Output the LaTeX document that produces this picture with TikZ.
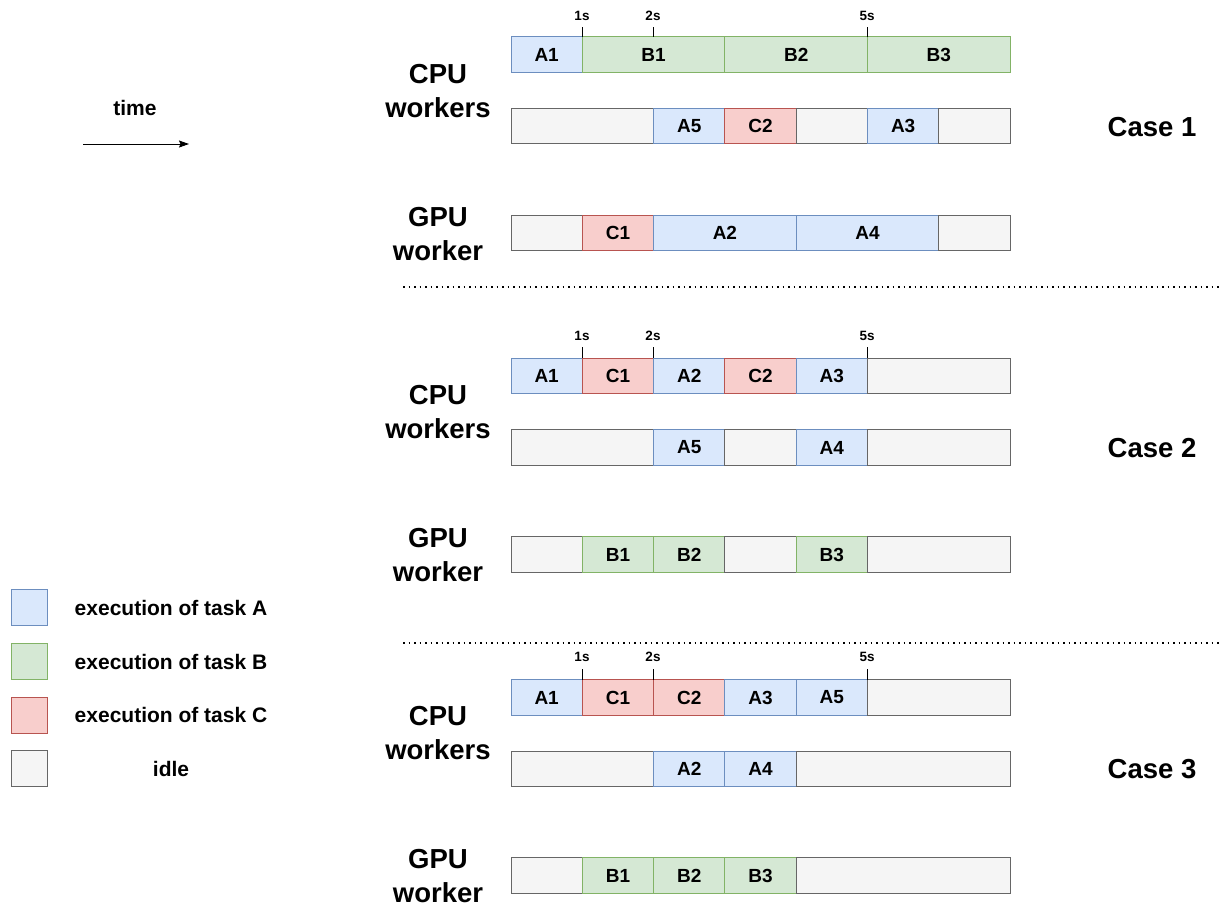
\documentclass[tikz,border=0pt]{standalone}
\usepackage{fontspec}
\setmainfont{Liberation Sans}
\usetikzlibrary{arrows.meta}
\definecolor{aF}{HTML}{DAE8FC}\definecolor{aD}{HTML}{6C8EBF}
\definecolor{bF}{HTML}{D5E8D4}\definecolor{bD}{HTML}{82B366}
\definecolor{cF}{HTML}{F8CECC}\definecolor{cD}{HTML}{B85450}
\definecolor{iF}{HTML}{F5F5F5}\definecolor{iD}{HTML}{666666}
\tikzset{
  blk/.style={draw, line width=0.9pt, inner sep=0pt, minimum height=35.5pt, font=\fontsize{19}{22}\selectfont\bfseries},
  ta/.style={blk, fill=aF, draw=aD},
  tb/.style={blk, fill=bF, draw=bD},
  tc/.style={blk, fill=cF, draw=cD},
  ti/.style={blk, fill=iF, draw=iD},
  rowlbl/.style={align=center, font=\fontsize{27.5}{34}\selectfont\bfseries},
  caselbl/.style={font=\fontsize{27.5}{32}\selectfont\bfseries},
  ticklbl/.style={font=\fontsize{13.5}{15}\selectfont\bfseries, inner sep=0pt},
  tickln/.style={line width=0.8pt},
  sep/.style={line width=1.2pt, dash pattern=on 1.5pt off 4pt},
  legsq/.style={draw, line width=0.9pt, minimum width=36pt, minimum height=36pt, inner sep=0pt},
  legtx/.style={font=\fontsize{21}{25}\selectfont\bfseries},
}
\newcommand{\seg}[6]{\node[#1, minimum width={(#3-#2)*71.3pt}] (#6) at ({511+(#2+#3)/2*71.3}, #4) {#5};}
\begin{document}
\begin{tikzpicture}[x=1pt,y=-1pt]
\useasboundingbox (0,0) rectangle (1221,906);
% time arrow
\node[legtx] (time) at (135,108) {time};
\coordinate (t0) at (83,144); \coordinate (t1) at (189,144);
\draw[line width=0.9pt, -{Stealth[length=10pt,width=7pt,inset=1.5pt]}] (t0) -- (t1);
% legend
\node[legsq, fill=aF, draw=aD] (la) at (29,607.5) {};
\node[legsq, fill=bF, draw=bD] (lb) at (29,661.5) {};
\node[legsq, fill=cF, draw=cD] (lc) at (29,715) {};
\node[legsq, fill=iF, draw=iD] (li) at (29,768.5) {};
\node[legtx] (lta) at (171,607.5) {execution of task A};
\node[legtx] (ltb) at (171,661.5) {execution of task B};
\node[legtx] (ltc) at (171,715) {execution of task C};
\node[legtx] (lti) at (171,768.5) {idle};
% separators
\coordinate (s1a) at (403,287); \coordinate (s1b) at (1221,287);
\coordinate (s2a) at (403,643); \coordinate (s2b) at (1221,643);
\draw[sep] (s1a) -- (s1b);
\draw[sep] (s2a) -- (s2b);
% ===== Case 1 =====
\node[rowlbl] (cpu1) at (438,91.5) {CPU\\workers};
\node[rowlbl] (gpu1) at (438,234.5) {GPU\\worker};
\node[caselbl] (case1) at (1152,127) {Case 1};
\seg{ta}{0}{1}{54.5}{A1}{c1a1}
\seg{tb}{1}{3}{54.5}{B1}{c1b1}
\seg{tb}{3}{5}{54.5}{B2}{c1b2}
\seg{tb}{5}{7}{54.5}{B3}{c1b3}
\seg{ti}{0}{2}{126}{}{c1i1}
\seg{ta}{2}{3}{126}{A5}{c1a5}
\seg{tc}{3}{4}{126}{C2}{c1c2}
\seg{ti}{4}{5}{126}{}{c1i2}
\seg{ta}{5}{6}{126}{A3}{c1a3}
\seg{ti}{6}{7}{126}{}{c1i3}
\seg{ti}{0}{1}{233}{}{c1g1}
\seg{tc}{1}{2}{233}{C1}{c1c1}
\seg{ta}{2}{4}{233}{A2}{c1a2}
\seg{ta}{4}{6}{233}{A4}{c1a4}
\seg{ti}{6}{7}{233}{}{c1g2}
\foreach \x/\l/\n in {582/1s/a,653/2s/b,867/5s/c}{
  \node[ticklbl] (k1\n) at (\x,16) {\l};
  \coordinate (k1\n t) at (\x,27); \coordinate (k1\n b) at (\x,37);
  \draw[tickln] (k1\n t) -- (k1\n b);
}
% ===== Case 2 =====
\node[rowlbl] (cpu2) at (438,412.5) {CPU\\workers};
\node[rowlbl] (gpu2) at (438,555) {GPU\\worker};
\node[caselbl] (case2) at (1152,448) {Case 2};
\seg{ta}{0}{1}{376}{A1}{c2a1}
\seg{tc}{1}{2}{376}{C1}{c2c1}
\seg{ta}{2}{3}{376}{A2}{c2a2}
\seg{tc}{3}{4}{376}{C2}{c2c2}
\seg{ta}{4}{5}{376}{A3}{c2a3}
\seg{ti}{5}{7}{376}{}{c2i1}
\seg{ti}{0}{2}{447.5}{}{c2i2}
\seg{ta}{2}{3}{447.5}{A5}{c2a5}
\seg{ti}{3}{4}{447.5}{}{c2i3}
\seg{ta}{4}{5}{447.5}{A4}{c2a4}
\seg{ti}{5}{7}{447.5}{}{c2i4}
\seg{ti}{0}{1}{554.5}{}{c2g1}
\seg{tb}{1}{2}{554.5}{B1}{c2b1}
\seg{tb}{2}{3}{554.5}{B2}{c2b2}
\seg{ti}{3}{4}{554.5}{}{c2g2}
\seg{tb}{4}{5}{554.5}{B3}{c2b3}
\seg{ti}{5}{7}{554.5}{}{c2g3}
\foreach \x/\l/\n in {582/1s/a,653/2s/b,867/5s/c}{
  \node[ticklbl] (k2\n) at (\x,336) {\l};
  \coordinate (k2\n t) at (\x,347); \coordinate (k2\n b) at (\x,358);
  \draw[tickln] (k2\n t) -- (k2\n b);
}
% ===== Case 3 =====
\node[rowlbl] (cpu3) at (438,733) {CPU\\workers};
\node[rowlbl] (gpu3) at (438,876) {GPU\\worker};
\node[caselbl] (case3) at (1152,769) {Case 3};
\seg{ta}{0}{1}{697.5}{A1}{c3a1}
\seg{tc}{1}{2}{697.5}{C1}{c3c1}
\seg{tc}{2}{3}{697.5}{C2}{c3c2}
\seg{ta}{3}{4}{697.5}{A3}{c3a3}
\seg{ta}{4}{5}{697.5}{A5}{c3a5}
\seg{ti}{5}{7}{697.5}{}{c3i1}
\seg{ti}{0}{2}{769}{}{c3i2}
\seg{ta}{2}{3}{769}{A2}{c3a2}
\seg{ta}{3}{4}{769}{A4}{c3a4}
\seg{ti}{4}{7}{769}{}{c3i3}
\seg{ti}{0}{1}{875.5}{}{c3g1}
\seg{tb}{1}{2}{875.5}{B1}{c3b1}
\seg{tb}{2}{3}{875.5}{B2}{c3b2}
\seg{tb}{3}{4}{875.5}{B3}{c3b3}
\seg{ti}{4}{7}{875.5}{}{c3g2}
\foreach \x/\l/\n in {582/1s/a,653/2s/b,867/5s/c}{
  \node[ticklbl] (k3\n) at (\x,657) {\l};
  \coordinate (k3\n t) at (\x,669); \coordinate (k3\n b) at (\x,680);
  \draw[tickln] (k3\n t) -- (k3\n b);
}
\end{tikzpicture}
\end{document}
